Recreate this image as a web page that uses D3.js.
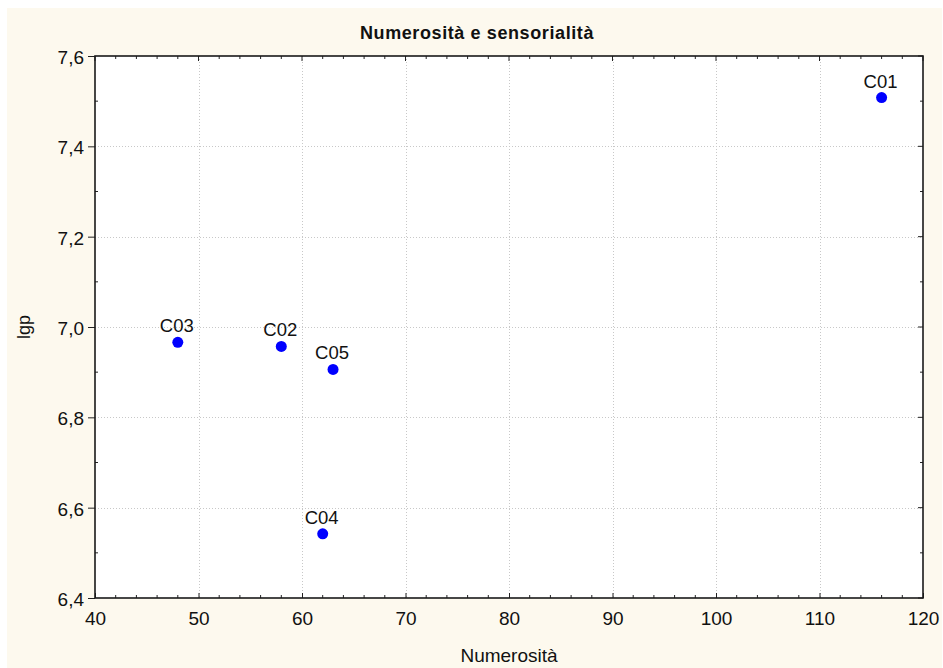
<!DOCTYPE html>
<html>
<head>
<meta charset="utf-8">
<script src="https://cdn.jsdelivr.net/npm/d3@7"></script>
<style>
  html, body { margin: 0; padding: 0; background: #ffffff; }
  svg { display: block; font-family: Arial, "Liberation Sans", sans-serif; }
</style>
</head>
<body>
<svg id="chart" width="943" height="668"></svg>
<script>
// Scatter: Numerosità vs lgp, one labelled point per case
const labels = ["C01", "C02", "C03", "C04", "C05"];
const numerosita = [116, 58, 48, 62, 63];
const lgp = [7.508, 6.957, 6.966, 6.542, 6.906];

const xTicks = [40, 50, 60, 70, 80, 90, 100, 110, 120];
const yTicks = [6.4, 6.6, 6.8, 7.0, 7.2, 7.4, 7.6];

const W = 943, H = 668;
const plot = { left: 95, top: 56, right: 923, bottom: 598 };
const FONT = "Arial, 'Liberation Sans', sans-serif";

const svg = d3.select("#chart");

// cream panel behind everything
svg.append("rect")
  .attr("x", 7).attr("y", 8)
  .attr("width", 935).attr("height", H - 8)
  .attr("fill", "#fdf9ee");

const x = d3.scaleLinear().domain([40, 120]).range([plot.left, plot.right]);
const y = d3.scaleLinear().domain([6.4, 7.6]).range([plot.bottom, plot.top]);

// plot area
svg.append("rect")
  .attr("x", plot.left).attr("y", plot.top)
  .attr("width", plot.right - plot.left).attr("height", plot.bottom - plot.top)
  .attr("fill", "#ffffff");

// dotted grid
const grid = svg.append("g").attr("stroke", "#c8c8c8").attr("stroke-width", 1)
  .attr("stroke-dasharray", "1,2").attr("shape-rendering", "crispEdges");
grid.selectAll(".gx").data(xTicks.slice(1, -1)).join("line")
  .attr("x1", d => Math.round(x(d)) + 0.5).attr("x2", d => Math.round(x(d)) + 0.5)
  .attr("y1", plot.top).attr("y2", plot.bottom);
grid.selectAll(".gy").data(yTicks.slice(1, -1)).join("line")
  .attr("y1", d => Math.round(y(d)) + 0.5).attr("y2", d => Math.round(y(d)) + 0.5)
  .attr("x1", plot.left).attr("x2", plot.right);

const fmtY = v => d3.format(".1f")(v).replace(".", ",");
const minorX = d3.range(42, 120, 2).filter(v => v % 10 !== 0);
const minorY = d3.range(6.5, 7.6, 0.2).map(v => +v.toFixed(1));

// bottom axis: labels below, ticks pointing inward
const xAxis = svg.append("g").attr("transform", `translate(0,${plot.bottom})`)
  .call(d3.axisBottom(x).tickValues(xTicks).tickFormat(d3.format("d"))
    .tickSizeInner(-5).tickSizeOuter(0).tickPadding(14));
xAxis.select(".domain").remove();
xAxis.selectAll("text").attr("font-size", 19).attr("fill", "#111").attr("font-family", FONT);
xAxis.selectAll("line").attr("stroke", "#222");
xAxis.selectAll(".minor").data(minorX).join("line").attr("class", "minor")
  .attr("x1", d => x(d)).attr("x2", d => x(d)).attr("y1", 0).attr("y2", -3)
  .attr("stroke", "#222");

// left axis: ticks pointing outward
const yAxis = svg.append("g").attr("transform", `translate(${plot.left},0)`)
  .call(d3.axisLeft(y).tickValues(yTicks).tickFormat(fmtY)
    .tickSizeInner(7).tickSizeOuter(0).tickPadding(4));
yAxis.select(".domain").remove();
yAxis.selectAll("text").attr("font-size", 19).attr("fill", "#111").attr("dy", "0.4em")
  .attr("font-family", FONT);
yAxis.selectAll("line").attr("stroke", "#222");
yAxis.selectAll(".minor").data(minorY).join("line").attr("class", "minor")
  .attr("y1", d => y(d)).attr("y2", d => y(d)).attr("x1", 0).attr("x2", 3)
  .attr("stroke", "#222");

// top and right frame ticks, inward
const edgeTicks = svg.append("g").attr("stroke", "#222");
edgeTicks.selectAll(".t").data(xTicks.concat(minorX)).join("line")
  .attr("x1", d => x(d)).attr("x2", d => x(d))
  .attr("y1", plot.top).attr("y2", d => plot.top + (d % 10 === 0 ? 5 : 3));
edgeTicks.selectAll(".r").data(yTicks.concat(minorY)).join("line")
  .attr("y1", d => y(d)).attr("y2", d => y(d))
  .attr("x1", plot.right).attr("x2", d => plot.right - (minorY.includes(d) ? 3 : 5));

// frame
svg.append("rect")
  .attr("x", plot.left).attr("y", plot.top)
  .attr("width", plot.right - plot.left).attr("height", plot.bottom - plot.top)
  .attr("fill", "none").attr("stroke", "#1a1a1a").attr("stroke-width", 1.6);

// points
const pts = labels.map((l, i) => ({ label: l, x: numerosita[i], y: lgp[i] }));
svg.append("g").selectAll("circle").data(pts).join("circle")
  .attr("cx", d => x(d.x)).attr("cy", d => y(d.y)).attr("r", 5.5)
  .attr("fill", "#0000ff");

svg.append("g").selectAll("text").data(pts).join("text")
  .attr("x", d => x(d.x) - 1).attr("y", d => y(d.y) - 10)
  .attr("text-anchor", "middle").attr("font-size", 18.5).attr("fill", "#111")
  .text(d => d.label);

// titles
svg.append("text").attr("x", 477).attr("y", 39)
  .attr("text-anchor", "middle").attr("font-size", 18).attr("font-weight", "bold")
  .attr("letter-spacing", 0.6)
  .attr("fill", "#111").text("Numerosità e sensorialità");

svg.append("text").attr("x", (plot.left + plot.right) / 2).attr("y", 662)
  .attr("text-anchor", "middle").attr("font-size", 19).attr("fill", "#111")
  .text("Numerosità");

svg.append("text")
  .attr("transform", `translate(30,${(plot.top + plot.bottom) / 2}) rotate(-90)`)
  .attr("text-anchor", "middle").attr("font-size", 18).attr("fill", "#111")
  .text("lgp");
</script>
</body>
</html>
